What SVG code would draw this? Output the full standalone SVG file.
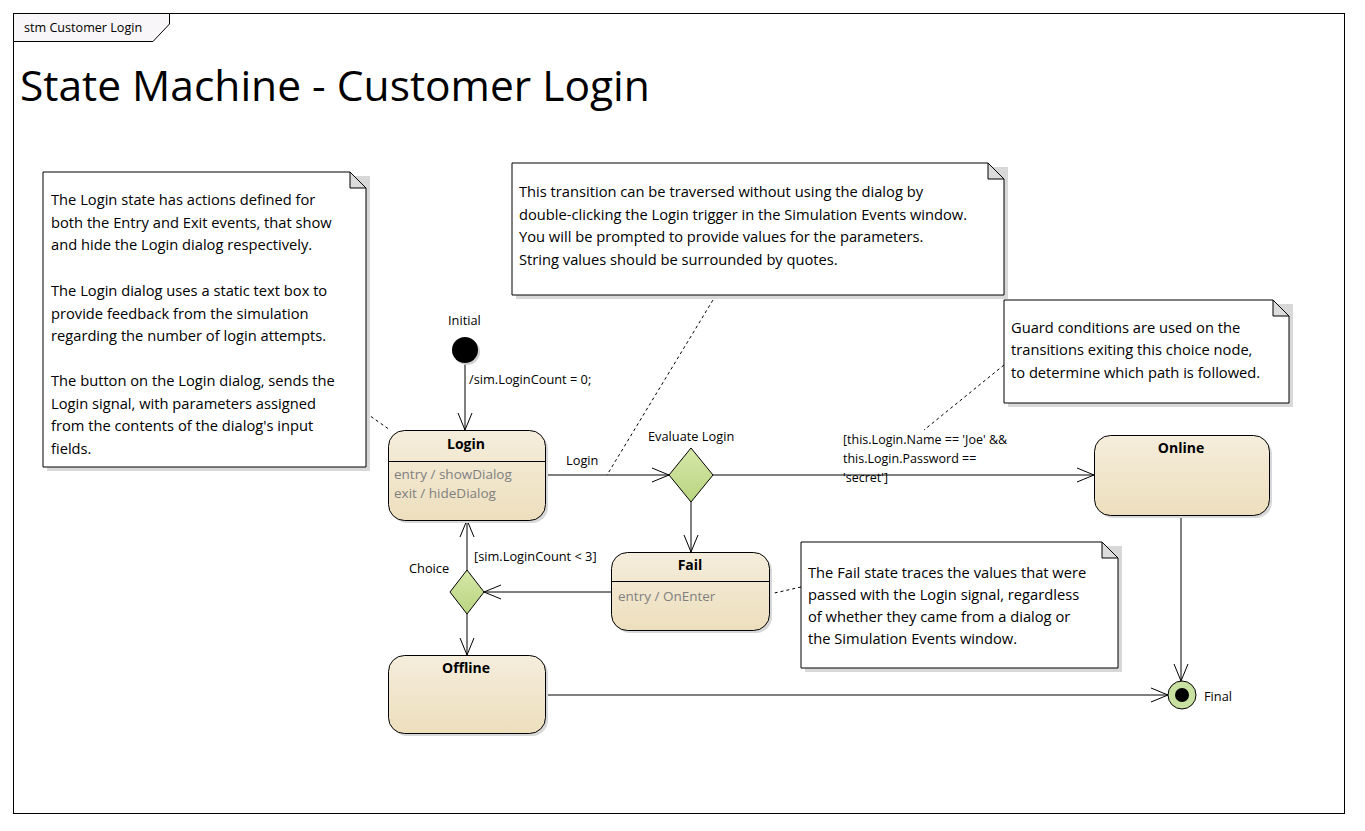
<svg xmlns="http://www.w3.org/2000/svg" width="1365" height="831" viewBox="0 0 1365 831">
<defs>
<linearGradient id="stateFill" x1="0" y1="0" x2="0" y2="1">
<stop offset="0" stop-color="#f5eddc"/>
<stop offset="1" stop-color="#eddfbd"/>
</linearGradient>
<linearGradient id="choiceFill" x1="0" y1="0" x2="0" y2="1">
<stop offset="0" stop-color="#d6e8a8"/>
<stop offset="1" stop-color="#b8d480"/>
</linearGradient>
<marker id="arrow" markerUnits="userSpaceOnUse" markerWidth="20" markerHeight="20" viewBox="-18 -9 20 18" refX="0" refY="0" orient="auto">
<path d="M-17,-7 L0,0 L-17,7" fill="none" stroke="#000" stroke-width="1"/>
</marker>
</defs>
<style>
text{font-family:"Open Sans","Noto Sans","DejaVu Sans",sans-serif;fill:#000}
.note{font-size:14.7px}
.lbl{font-size:12.8px}
.name{font-size:14px;font-weight:bold;text-anchor:middle}
.act{font-size:13.5px;fill:#808080}
.state{fill:url(#stateFill);stroke:#000;stroke-width:1}
.shadow{fill:#d8d8d8;stroke:none}
.notebox{fill:#fff;stroke:#000;stroke-width:1}
.fold{fill:#dcdcdc;stroke:#000;stroke-width:1}
.conn{fill:none;stroke:#000;stroke-width:1}
.link{fill:none;stroke:#000;stroke-width:1;stroke-dasharray:3,3}
</style>
<rect width="1365" height="831" fill="#fff"/>
<g id="frame">
<rect x="13.5" y="13.5" width="1331" height="800" fill="none" stroke="#000"/>
<polygon points="13.5,13.5 169.5,13.5 169.5,24 153,41.5 13.5,41.5" fill="#f8f6f8" stroke="#000"/>
<text x="24" y="32" style="font-size:12.6px">stm Customer Login</text>
<text x="20" y="101" style="font-size:42.5px">State Machine - Customer Login</text>
</g>
<g id="connectors">
<line class="conn" x1="465" y1="363" x2="465" y2="430" marker-end="url(#arrow)"/>
<line class="conn" x1="545" y1="475" x2="669" y2="475" marker-end="url(#arrow)"/>
<line class="conn" x1="713" y1="475" x2="1094" y2="475" marker-end="url(#arrow)"/>
<line class="conn" x1="691" y1="502" x2="691" y2="552" marker-end="url(#arrow)"/>
<line class="conn" x1="611" y1="592" x2="484" y2="592" marker-end="url(#arrow)"/>
<line class="conn" x1="467" y1="570" x2="467" y2="520" marker-end="url(#arrow)"/>
<line class="conn" x1="467" y1="614" x2="467" y2="655" marker-end="url(#arrow)"/>
<line class="conn" x1="545" y1="695" x2="1168" y2="695" marker-end="url(#arrow)"/>
<line class="conn" x1="1181" y1="515" x2="1181" y2="681" marker-end="url(#arrow)"/>
<line class="link" x1="366" y1="413" x2="390" y2="430"/>
<line class="link" x1="716" y1="295" x2="607" y2="475"/>
<line class="link" x1="1004" y1="365" x2="924" y2="430"/>
<line class="link" x1="801" y1="587" x2="770" y2="594"/>
<text class="lbl" x="469" y="384">/sim.LoginCount = 0;</text>
<text class="lbl" x="566" y="465">Login</text>
<text class="lbl" x="843" y="444" style="font-size:12.5px">[this.Login.Name == 'Joe' &amp;&amp;</text>
<text class="lbl" x="843" y="463" style="font-size:12.5px">this.Login.Password ==</text>
<text class="lbl" x="843" y="482" style="font-size:12.5px">'secret']</text>
<text class="lbl" x="474" y="561">[sim.LoginCount &lt; 3]</text>
</g>
<g id="note1">
<rect class="shadow" x="47" y="176" width="323" height="295"/>
<polygon class="notebox" points="43,172 350,172 366,188 366,467 43,467"/>
<polygon class="fold" points="350,172 350,188 366,188"/>
<text class="note" x="51" y="205">The Login state has actions defined for</text>
<text class="note" x="51" y="228">both the Entry and Exit events, that show</text>
<text class="note" x="51" y="250">and hide the Login dialog respectively.</text>
<text class="note" x="51" y="296">The Login dialog uses a static text box to</text>
<text class="note" x="51" y="319">provide feedback from the simulation</text>
<text class="note" x="51" y="341">regarding the number of login attempts.</text>
<text class="note" x="51" y="386">The button on the Login dialog, sends the</text>
<text class="note" x="51" y="409">Login signal, with parameters assigned</text>
<text class="note" x="51" y="431">from the contents of the dialog's input</text>
<text class="note" x="51" y="454">fields.</text>
</g>
<g id="note2">
<rect class="shadow" x="516" y="167" width="492" height="132"/>
<polygon class="notebox" points="512,163 988,163 1004,179 1004,295 512,295"/>
<polygon class="fold" points="988,163 988,179 1004,179"/>
<text class="note" x="519" y="197">This transition can be traversed without using the dialog by</text>
<text class="note" x="519" y="220">double-clicking the Login trigger in the Simulation Events window.</text>
<text class="note" x="519" y="242">You will be prompted to provide values for the parameters.</text>
<text class="note" x="519" y="265">String values should be surrounded by quotes.</text>
</g>
<g id="note3">
<rect class="shadow" x="1008" y="304" width="285" height="103"/>
<polygon class="notebox" points="1004,300 1273,300 1289,316 1289,403 1004,403"/>
<polygon class="fold" points="1273,300 1273,316 1289,316"/>
<text class="note" x="1011" y="333">Guard conditions are used on the</text>
<text class="note" x="1011" y="355">transitions exiting this choice node,</text>
<text class="note" x="1011" y="378">to determine which path is followed.</text>
</g>
<g id="note4">
<rect class="shadow" x="805" y="546" width="317" height="126"/>
<polygon class="notebox" points="801,542 1102,542 1118,558 1118,668 801,668"/>
<polygon class="fold" points="1102,542 1102,558 1118,558"/>
<text class="note" x="808" y="578">The Fail state traces the values that were</text>
<text class="note" x="808" y="600">passed with the Login signal, regardless</text>
<text class="note" x="808" y="622">of whether they came from a dialog or</text>
<text class="note" x="808" y="644">the Simulation Events window.</text>
</g>
<g id="initial">
<circle cx="467" cy="352" r="13" fill="#d0d0d0"/>
<circle cx="465" cy="350" r="13" fill="#000"/>
<text class="lbl" x="448" y="325">Initial</text>
</g>
<g id="login">
<rect x="391" y="433" width="157" height="90" rx="16" fill="#d8d8d8"/>
<rect class="state" x="388.5" y="430.5" width="157" height="90" rx="16"/>
<line x1="388.5" y1="461.5" x2="545.5" y2="461.5" stroke="#000"/>
<text class="name" x="466" y="449">Login</text>
<text class="act" x="394" y="479">entry / showDialog</text>
<text class="act" x="394" y="498">exit / hideDialog</text>
</g>
<g id="evaluate">
<polygon points="691,448 713,475 691,502 669,475" fill="url(#choiceFill)" stroke="#000"/>
<text class="lbl" x="648" y="441">Evaluate Login</text>
</g>
<g id="online">
<rect x="1097" y="438" width="175" height="80" rx="16" fill="#d8d8d8"/>
<rect class="state" x="1094.5" y="435.5" width="175" height="80" rx="16"/>
<text class="name" x="1181" y="453">Online</text>
</g>
<g id="fail">
<rect x="614" y="555" width="158" height="78" rx="16" fill="#d8d8d8"/>
<rect class="state" x="611.5" y="552.5" width="158" height="78" rx="16"/>
<line x1="611.5" y1="581.5" x2="769.5" y2="581.5" stroke="#000"/>
<text class="name" x="690" y="570">Fail</text>
<text class="act" x="618" y="601">entry / OnEnter</text>
</g>
<g id="choice">
<polygon points="467,570 484,592 467,614 450,592" fill="url(#choiceFill)" stroke="#000"/>
<text class="lbl" x="409" y="573">Choice</text>
</g>
<g id="offline">
<rect x="391" y="658" width="157" height="78" rx="16" fill="#d8d8d8"/>
<rect class="state" x="388.5" y="655.5" width="157" height="78" rx="16"/>
<text class="name" x="466" y="673">Offline</text>
</g>
<g id="final">
<circle cx="1182" cy="695" r="14" fill="#c8e0a0" stroke="#000"/>
<circle cx="1182" cy="695" r="7" fill="#000"/>
<text class="lbl" x="1204" y="701">Final</text>
</g>
</svg>
